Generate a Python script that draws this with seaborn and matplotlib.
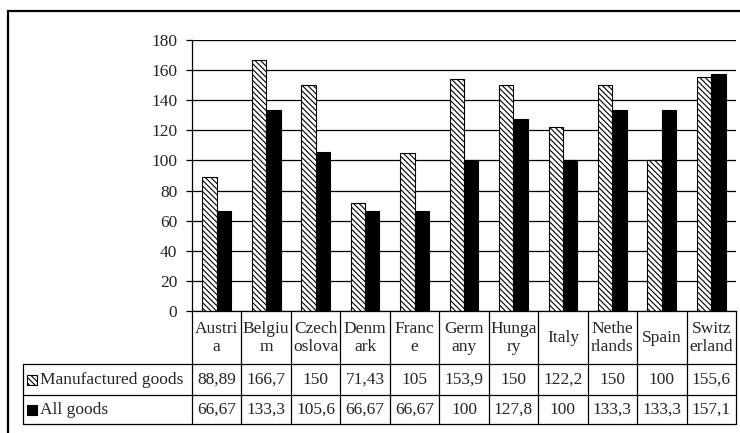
import numpy as np
import pandas as pd
import matplotlib
matplotlib.use("Agg")
import matplotlib.pyplot as plt
import seaborn as sns
from matplotlib.transforms import blended_transform_factory
from matplotlib.patches import Rectangle
from matplotlib.lines import Line2D

# Column headings as they appear in the data table under the bars
labels = ["Austri\na", "Belgiu\nm", "Czech\noslova", "Denm\nark", "Franc\ne",
          "Germ\nany", "Hunga\nry", "Italy", "Nethe\nrlands", "Spain", "Switz\nerland"]
series = ["Manufactured goods", "All goods"]
manufactured = [88.89, 166.7, 150, 71.43, 105, 153.9, 150, 122.2, 150, 100, 155.6]
all_goods = [66.67, 133.3, 105.6, 66.67, 66.67, 100, 127.8, 100, 133.3, 133.3, 157.1]
yticks = [0, 20, 40, 60, 80, 100, 120, 140, 160, 180]

sns.set_style("white")
plt.rcParams["font.family"] = ["Liberation Serif", "DejaVu Serif"]
plt.rcParams["hatch.linewidth"] = 0.8

W, H = 740, 433
fig = plt.figure(figsize=(W / 100, H / 100), dpi=100)


def fx(px):
    return px / W


def fy(py):
    return 1 - py / H


ax = fig.add_axes([fx(192), fy(311), fx(736) - fx(192), fy(40) - fy(311)])

df = pd.DataFrame({
    "label": labels * 2,
    "series": [series[0]] * len(labels) + [series[1]] * len(labels),
    "value": manufactured + all_goods,
})
sns.barplot(data=df, x="label", y="value", hue="series", order=labels,
            hue_order=series, palette=["white", "black"], saturation=1,
            edgecolor="black", linewidth=0.8, width=0.58, legend=False, ax=ax)
HATCH = "\\" * 6
for bar in ax.containers[0]:
    bar.set_hatch(HATCH)

ax.set_xlim(-0.5, len(labels) - 0.5)
ax.set_ylim(0, 180)
ax.set_yticks(yticks)
ax.set_xticks([])
ax.set_xlabel("")
ax.set_ylabel("")
ax.yaxis.grid(True, color="black", linewidth=0.9)
ax.set_axisbelow(True)
for side in ["top", "right"]:
    ax.spines[side].set_visible(False)
for side in ["left", "bottom"]:
    ax.spines[side].set_color("black")
    ax.spines[side].set_linewidth(0.9)
ax.tick_params(axis="y", direction="out", length=4.5, width=0.9, color="black",
               labelsize=12.5, pad=6, left=True)

# Data table below the plot
trans = blended_transform_factory(ax.transData, fig.transFigure)
y0, y_cat, y_r1, y_r2 = fy(311), fy(364), fy(395), fy(424)
lw = 0.9
for b in np.arange(-0.5, len(labels)):
    fig.add_artist(Line2D([b, b], [y0, y_r2], transform=trans, color="black", lw=lw))
for yy in (y_cat, y_r1, y_r2):
    fig.add_artist(Line2D([fx(23), fx(736)], [yy, yy], transform=fig.transFigure,
                          color="black", lw=lw))
fig.add_artist(Line2D([fx(23), fx(23)], [y_cat, y_r2], transform=fig.transFigure,
                      color="black", lw=lw))

fs = 12.5
for i, lab in enumerate(labels):
    fig.text(i, fy(338), lab, transform=trans, ha="center", va="center",
             fontsize=fs, linespacing=1.1)


def fmt(v):
    return f"{v:g}".replace(".", ",")


for i, (m, a) in enumerate(zip(manufactured, all_goods)):
    fig.text(i, fy(380), fmt(m), transform=trans, ha="center", va="center", fontsize=fs)
    fig.text(i, fy(410), fmt(a), transform=trans, ha="center", va="center", fontsize=fs)

# Legend keys in the first table column
for cy, face, hatch, name in [(380, "white", HATCH, series[0]),
                              (410, "black", None, series[1])]:
    key = Rectangle((fx(27), fy(cy + 5)), 10 / W, 10 / H, transform=fig.transFigure,
                    facecolor=face, edgecolor="black", lw=0.8, hatch=hatch)
    fig.add_artist(key)
    fig.text(fx(40), fy(cy), name, transform=fig.transFigure, ha="left",
             va="center", fontsize=fs)

# Outer frame
fig.add_artist(Line2D([fx(7.5), 1.0], [fy(10.5), fy(10.5)], transform=fig.transFigure,
                      color="black", lw=1.6))
fig.add_artist(Line2D([fx(7.5), fx(7.5)], [fy(10.5), 0.0], transform=fig.transFigure,
                      color="black", lw=1.6))

fig.savefig("out.png", dpi=100)
